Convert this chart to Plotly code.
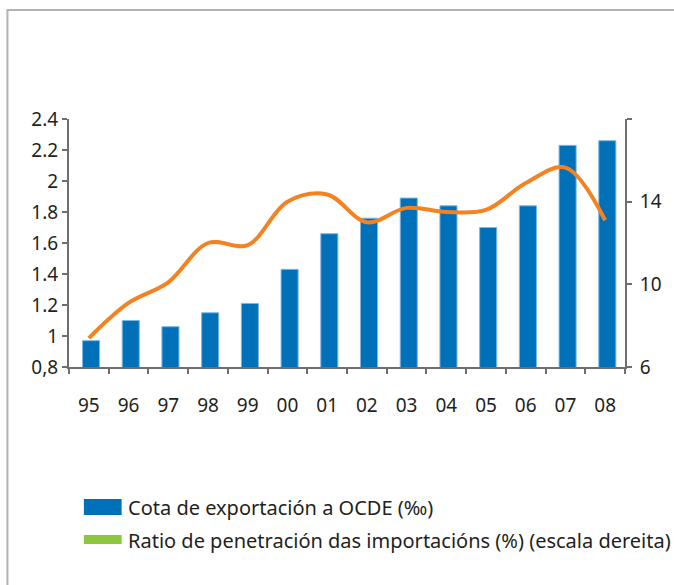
import plotly.graph_objects as go

# Cota de exportación a OCDE (barras) e ratio de penetración das importacións (liña)

YEARS = ["95", "96", "97", "98", "99", "00", "01", "02", "03", "04", "05", "06", "07", "08"]
COTA_OCDE = [0.97, 1.10, 1.06, 1.15, 1.21, 1.43, 1.66, 1.76, 1.89, 1.84, 1.70, 1.84, 2.23, 2.26]
RATIO_IMPORT = [7.4, 9.1, 10.1, 12.0, 11.9, 14.0, 14.35, 13.0, 13.7, 13.5, 13.6, 14.9, 15.65, 13.1]

LEFT_TICKS = [0.8, 1.0, 1.2, 1.4, 1.6, 1.8, 2.0, 2.2, 2.4]
LEFT_LABELS = ["0,8", "1", "1.2", "1.4", "1.6", "1.8", "2", "2.2", "2.4"]
RIGHT_TICKS = [6, 10, 14, 18]
RIGHT_LABELS = ["6", "10", "14", ""]

LEGEND_LABELS = ["Cota de exportación a OCDE (‰)",
                 "Ratio de penetración das importacións (%) (escala dereita)"]

BAR_COLOR = "#0070b9"
BAR_EDGE = "#7fb6e2"
LINE_COLOR = "#f58220"
LEGEND_LINE_COLOR = "#8dc63f"  # o orixinal pinta a lenda da liña en verde
AXIS_COLOR = "#6d6e71"
TEXT_COLOR = "#231f20"
FONT = "Noto Sans"

# área do gráfico en píxeles (para colocar lenda e marco)
L, R, T, B = 69, 629, 119, 367
W, H = R - L, B - T


def px(x):
    return (x - L) / W


def py(y):
    return (B - y) / H


fig = go.Figure()
fig.add_trace(go.Bar(
    x=YEARS, y=COTA_OCDE,
    marker=dict(color=BAR_COLOR, line=dict(color=BAR_EDGE, width=1)),
    width=0.43, offset=-0.16,
    showlegend=False,
))
fig.add_trace(go.Scatter(
    x=YEARS, y=RATIO_IMPORT, yaxis="y2",
    mode="lines",
    line=dict(color=LINE_COLOR, width=4, shape="spline", smoothing=1.0),
    showlegend=False,
))

axis_common = dict(showgrid=False, zeroline=False, linecolor=AXIS_COLOR, linewidth=2,
                   tickcolor=AXIS_COLOR, tickwidth=1.5,
                   tickfont=dict(family=FONT, size=19, color=TEXT_COLOR))

fig.update_layout(
    width=674, height=585,
    paper_bgcolor="white", plot_bgcolor="white",
    margin=dict(l=L, r=674 - R, t=T, b=585 - B),
    bargap=0.5,
    xaxis=dict(**axis_common, type="category", categoryarray=YEARS, range=[-0.5, 13.5],
               ticks="outside", ticklen=5, tickson="boundaries", showline=True,
               ticklabelstandoff=20),
    xaxis2=dict(overlaying="x", type="category", categoryarray=YEARS, range=[-0.5, 13.5],
                showgrid=False, zeroline=False, showline=False, ticks="inside", ticklen=5,
                tickcolor=AXIS_COLOR, tickwidth=1.5, tickson="boundaries", showticklabels=False,
                anchor="y"),
    yaxis=dict(**axis_common, range=[0.8, 2.4], tickvals=LEFT_TICKS, ticktext=LEFT_LABELS,
               ticks="outside", ticklen=5, showline=True),
    yaxis2=dict(**axis_common, range=[6, 18], tickvals=RIGHT_TICKS, ticktext=RIGHT_LABELS,
                overlaying="y", side="right", ticks="outside", ticklen=5, showline=True,
                ticklabelstandoff=4),
    yaxis3=dict(overlaying="y", range=[0.8, 2.4], tickvals=LEFT_TICKS, showgrid=False,
                zeroline=False, showline=False, ticks="inside", ticklen=5, tickcolor=AXIS_COLOR,
                tickwidth=1.5, showticklabels=False),
    yaxis4=dict(overlaying="y", side="right", range=[6, 18], tickvals=RIGHT_TICKS, showgrid=False,
                zeroline=False, showline=False, ticks="inside", ticklen=5, tickcolor=AXIS_COLOR,
                tickwidth=1.5, showticklabels=False),
)

# marco gris exterior
fig.add_shape(type="rect", xref="paper", yref="paper",
              x0=px(7), x1=px(700), y0=py(620), y1=py(10),
              line=dict(color="#b3b3b3", width=2), fillcolor="rgba(0,0,0,0)", layer="below")

# lenda feita a man
fig.add_shape(type="rect", xref="paper", yref="paper",
              x0=px(84), x1=px(122), y0=py(515), y1=py(499),
              line=dict(width=0), fillcolor=BAR_COLOR)
fig.add_shape(type="rect", xref="paper", yref="paper",
              x0=px(84), x1=px(122), y0=py(544), y1=py(535),
              line=dict(width=0), fillcolor=LEGEND_LINE_COLOR)
for label, yc in zip(LEGEND_LABELS, [507, 540]):
    fig.add_annotation(text=label, xref="paper", yref="paper", x=px(126), y=py(yc),
                       xanchor="left", yanchor="middle", showarrow=False,
                       font=dict(family=FONT, size=20, color=TEXT_COLOR))

# sen a marxe por defecto do body, para que o gráfico ocupe a xanela enteira
fig.write_html("out.html", config={"displayModeBar": False},
               post_script="document.body.style.margin='0';")
